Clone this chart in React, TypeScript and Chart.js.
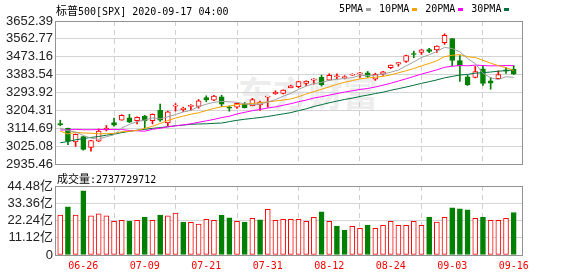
import React, { useEffect, useRef } from 'react';
import { Chart, registerables } from 'chart.js';

Chart.register(...registerables);

// ---- data ----
const dates = ['06-23','06-24','06-25','06-26','06-29','06-30','07-01','07-02','07-06','07-07','07-08','07-09','07-10','07-13','07-14','07-15','07-16','07-17','07-20','07-21','07-22','07-23','07-24','07-27','07-28','07-29','07-30','07-31','08-03','08-04','08-05','08-06','08-07','08-10','08-11','08-12','08-13','08-14','08-17','08-18','08-19','08-20','08-21','08-24','08-25','08-26','08-27','08-28','08-31','09-01','09-02','09-03','09-04','09-08','09-09','09-10','09-11','09-14','09-15','09-16'];

const opens = [3138.70,3114.40,3046.60,3073.20,3018.59,3050.20,3105.92,3143.64,3155.29,3166.44,3153.07,3176.17,3152.47,3205.08,3141.11,3225.98,3208.36,3224.21,3224.29,3268.52,3254.86,3271.64,3218.58,3219.84,3234.27,3227.22,3231.76,3270.45,3288.26,3289.92,3317.37,3323.17,3340.05,3356.04,3370.34,3355.46,3372.95,3368.66,3380.86,3387.04,3392.51,3360.48,3386.01,3418.09,3435.95,3449.97,3485.14,3494.69,3509.73,3507.44,3543.76,3564.74,3453.60,3371.88,3369.82,3412.56,3352.70,3363.56,3407.73,3411.23];
const highs = [3154.90,3115.01,3086.25,3073.73,3053.89,3111.51,3128.44,3165.81,3182.59,3184.15,3171.80,3179.78,3186.82,3235.32,3200.95,3238.28,3220.39,3233.52,3258.61,3277.29,3279.32,3279.99,3227.26,3241.43,3243.72,3264.74,3250.92,3272.17,3302.73,3306.84,3330.77,3351.03,3352.54,3363.29,3381.01,3387.89,3387.24,3378.51,3387.59,3395.06,3399.54,3390.80,3399.96,3432.09,3444.21,3481.07,3501.38,3509.23,3514.77,3528.03,3588.11,3564.85,3479.15,3379.97,3424.77,3425.55,3368.95,3402.93,3419.48,3428.92];
const lows = [3127.12,3032.13,3024.01,3004.63,2999.74,3047.83,3101.17,3124.52,3155.29,3142.93,3136.53,3115.70,3136.22,3149.43,3127.66,3200.76,3198.59,3205.65,3215.16,3247.77,3253.10,3222.66,3200.05,3214.25,3216.17,3227.22,3204.13,3220.26,3284.53,3286.37,3317.37,3318.14,3328.72,3335.44,3326.44,3355.46,3363.35,3361.64,3379.22,3370.15,3369.66,3354.69,3379.31,3413.13,3425.84,3444.15,3468.35,3484.32,3493.25,3494.60,3535.23,3427.41,3349.63,3329.27,3366.84,3329.25,3310.47,3363.56,3389.25,3384.45];
const closes = [3131.29,3050.33,3083.76,3009.05,3053.24,3100.29,3115.86,3130.01,3179.72,3145.32,3169.94,3152.05,3185.04,3155.22,3197.52,3226.56,3215.57,3224.73,3251.84,3257.30,3276.02,3235.66,3215.63,3239.41,3218.44,3258.44,3246.22,3271.12,3294.61,3306.51,3327.77,3349.16,3351.28,3360.47,3333.69,3380.35,3373.43,3372.85,3381.99,3389.78,3374.85,3385.51,3397.16,3431.28,3443.62,3478.73,3484.55,3508.01,3500.31,3526.65,3580.84,3455.06,3426.96,3331.84,3398.96,3339.19,3340.97,3383.54,3401.20,3385.49];
// closes of the 29 sessions before 06-23 (feed the moving averages)
const priorCloses = [2870.12,2820.00,2852.50,2863.70,2953.91,2922.94,2971.61,2948.51,2955.45,2991.77,3036.13,3029.73,3044.31,3055.73,3080.82,3122.87,3112.35,3193.93,3232.39,3207.18,3190.14,3002.10,3041.31,3066.59,3124.74,3113.49,3115.34,3097.74,3117.86];
// volume in 亿
const volumes = [25.8,31.0,25.8,41.4,25.2,26.5,25.2,21.7,22.3,21.9,22.3,24.5,22.3,25.8,25.2,27.1,21.3,21.1,20.0,23.0,22.3,25.8,23.9,21.7,21.3,23.7,22.6,29.5,22.3,23.0,23.0,23.0,21.7,24.3,27.8,21.7,18.7,16.1,18.5,17.2,19.3,17.2,19.1,21.7,19.1,19.1,21.7,19.1,24.5,21.3,24.3,30.4,29.7,29.1,23.7,24.5,22.3,22.3,23.7,27.38];

const priceTicks = [2935.46,3025.08,3114.69,3204.31,3293.92,3383.54,3473.16,3562.77,3652.39];
const volumeTicks = [0,11.12,22.24,33.36,44.48];
const volumeTickLabels = ['0','11.12亿','22.24亿','33.36亿','44.48亿'];
const dateTickIndex = [3,11,19,27,35,43,51,59];
const maPeriods = [5,10,20,30];
const maNames = ['5PMA','10PMA','20PMA','30PMA'];
const maColors = ['#a0a0a0','#f5a200','#ff00ff','#00703c'];
const lastVolumeText = '2737729712';

const RED = '#ff0000';
const GREEN = '#008000';
const X_MIN = -0.552;
const X_MAX = 60.08;

function movingAverage(n: number) {
  const all = [...priorCloses, ...closes];
  return closes.map((_, i) => {
    const end = priorCloses.length + i;
    let s = 0;
    for (let k = end - n + 1; k <= end; k++) s += all[k];
    return s / n;
  });
}

const framePlugin = {
  id: 'frame',
  afterDraw(chart: any) {
    const { ctx, chartArea: a } = chart;
    ctx.save();
    ctx.strokeStyle = '#929292';
    ctx.lineWidth = 1;
    ctx.strokeRect(a.left - 0.5, a.top + 0.5, a.right - a.left + 1, a.bottom - a.top);
    ctx.restore();
  },
};

const axisFont = { family: "'Liberation Sans', 'Noto Sans CJK SC', sans-serif", size: 13 };

export default function App() {
  const priceRef = useRef<HTMLCanvasElement>(null);
  const volRef = useRef<HTMLCanvasElement>(null);

  useEffect(() => {
    document.body.style.margin = '0';
    const isUp = (i: number) => closes[i] >= opens[i];
    const candleColor = closes.map((_, i) => (isUp(i) ? RED : GREEN));

    const maSets = maPeriods.map((p, k) => ({
      type: 'line' as const,
      label: maNames[k],
      data: movingAverage(p).map((v, i) => ({ x: i, y: v })),
      borderColor: maColors[k],
      borderWidth: 1,
      pointRadius: 0,
      tension: 0,
      fill: false,
      order: 0,
    }));

    const priceChart = new Chart(priceRef.current!, {
      type: 'bar',
      data: {
        datasets: [
          ...maSets,
          {
            type: 'bar',
            label: 'body',
            data: closes.map((c, i) => ({ x: i, y: [opens[i], c] })),
            backgroundColor: closes.map((_, i) => (isUp(i) ? '#ffffff' : GREEN)),
            borderColor: candleColor,
            borderWidth: 1,
            borderSkipped: false,
            barThickness: 5,
            minBarLength: 1,
            grouped: false,
            order: 1,
          },
          {
            type: 'bar',
            label: 'wick',
            data: closes.map((_, i) => ({ x: i, y: [lows[i], highs[i]] })),
            backgroundColor: candleColor,
            borderWidth: 0,
            barThickness: 1,
            grouped: false,
            order: 2,
          },
        ] as any,
      },
      options: {
        animation: false,
        responsive: false,
        devicePixelRatio: 1,
        events: [],
        layout: { padding: { top: 21, right: 56, bottom: 16, left: 0 } },
        plugins: { legend: { display: false }, tooltip: { enabled: false } },
        scales: {
          x: {
            type: 'linear',
            min: X_MIN,
            max: X_MAX,
            offset: false,
            afterBuildTicks: (s: any) => { s.ticks = dateTickIndex.map((v) => ({ value: v })); },
            afterFit: (s: any) => { s.height = 0; },
            ticks: { display: false, autoSkip: false },
            grid: { color: '#cfcfcf', drawTicks: false },
            border: { display: false, dash: [5, 4] },
          },
          y: {
            type: 'linear',
            min: priceTicks[0],
            max: priceTicks[priceTicks.length - 1],
            afterBuildTicks: (s: any) => { s.ticks = priceTicks.map((v) => ({ value: v })); },
            afterFit: (s: any) => { s.width = 56; },
            ticks: { autoSkip: false, font: axisFont, color: '#222', padding: 3, callback: (v: any) => Number(v).toFixed(2) },
            grid: { color: '#d4d4d4', drawTicks: false },
            border: { display: false },
          },
        },
      } as any,
      plugins: [framePlugin],
    });

    const volUp = closes.map((c, i) => c >= (i === 0 ? priorCloses[priorCloses.length - 1] : closes[i - 1]));
    const volChart = new Chart(volRef.current!, {
      type: 'bar',
      data: {
        datasets: [
          {
            label: 'volume',
            data: volumes.map((v, i) => ({ x: i, y: v })),
            backgroundColor: volUp.map((u) => (u ? '#ffffff' : GREEN)),
            borderColor: volUp.map((u) => (u ? RED : GREEN)),
            borderWidth: 1,
            borderSkipped: false,
            barThickness: 5,
          },
        ],
      },
      options: {
        animation: false,
        responsive: false,
        devicePixelRatio: 1,
        events: [],
        layout: { padding: { top: 16, right: 56, bottom: 0, left: 0 } },
        plugins: { legend: { display: false }, tooltip: { enabled: false } },
        scales: {
          x: {
            type: 'linear',
            min: X_MIN,
            max: X_MAX,
            offset: false,
            afterBuildTicks: (s: any) => { s.ticks = dateTickIndex.map((v) => ({ value: v })); },
            afterFit: (s: any) => { s.height = 21; },
            ticks: {
              autoSkip: false,
              maxRotation: 0,
              padding: 5,
              color: RED,
              font: { family: "'DejaVu Sans Mono', monospace", size: 10 },
              callback: (v: any) => dates[v],
            },
            grid: { color: '#cfcfcf', drawTicks: false },
            border: { display: false, dash: [5, 4] },
          },
          y: {
            type: 'linear',
            min: 0,
            max: volumeTicks[volumeTicks.length - 1],
            afterBuildTicks: (s: any) => { s.ticks = volumeTicks.map((v) => ({ value: v })); },
            afterFit: (s: any) => { s.width = 56; },
            ticks: {
              autoSkip: false,
              font: axisFont,
              color: '#222',
              padding: 3,
              callback: (v: any) => volumeTickLabels[volumeTicks.indexOf(Number(v))],
            },
            grid: { color: '#d4d4d4', drawTicks: false },
            border: { display: false },
          },
        },
      } as any,
      plugins: [framePlugin],
    });

    return () => {
      priceChart.destroy();
      volChart.destroy();
    };
  }, []);

  const mono = "'DejaVu Sans Mono', monospace";
  const cjk = "'Noto Sans CJK SC', sans-serif";

  return (
    <div style={{ position: 'fixed', left: 0, top: 0, width: 578, height: 276, background: '#fff', overflow: 'hidden' }}>
      <div style={{ position: 'absolute', left: 238, top: 70, font: `bold 35px ${cjk}`, color: '#ededed', lineHeight: '44px', whiteSpace: 'nowrap' }}>东方财富</div>
      <canvas ref={priceRef} width={578} height={180} style={{ position: 'absolute', left: 0, top: 0 }} />
      <canvas ref={volRef} width={578} height={106} style={{ position: 'absolute', left: 0, top: 170 }} />
      <div style={{ position: 'absolute', left: 56, top: 2, lineHeight: '14px', whiteSpace: 'nowrap', color: '#000' }}>
        <span style={{ font: `11px ${cjk}` }}>标普</span>
        <span style={{ font: `10px ${mono}` }}>500[SPX] 2020-09-17 04:00</span>
      </div>
      <div style={{ position: 'absolute', left: 339, top: 2, height: 14, display: 'flex', alignItems: 'center', whiteSpace: 'nowrap', font: `10px ${mono}`, color: '#000' }}>
        {maNames.map((n, k) => (
          <React.Fragment key={n}>
            <span style={{ lineHeight: '14px' }}>{n}</span>
            <span style={{ display: 'inline-block', width: 5, height: 3, background: maColors[k], marginLeft: 3, marginRight: 8 }} />
          </React.Fragment>
        ))}
      </div>
      <div style={{ position: 'absolute', left: 57, top: 170, lineHeight: '14px', whiteSpace: 'nowrap', color: '#000' }}>
        <span style={{ font: `11px ${cjk}` }}>成交量</span>
        <span style={{ font: `10px ${mono}` }}>:{lastVolumeText}</span>
      </div>
    </div>
  );
}
